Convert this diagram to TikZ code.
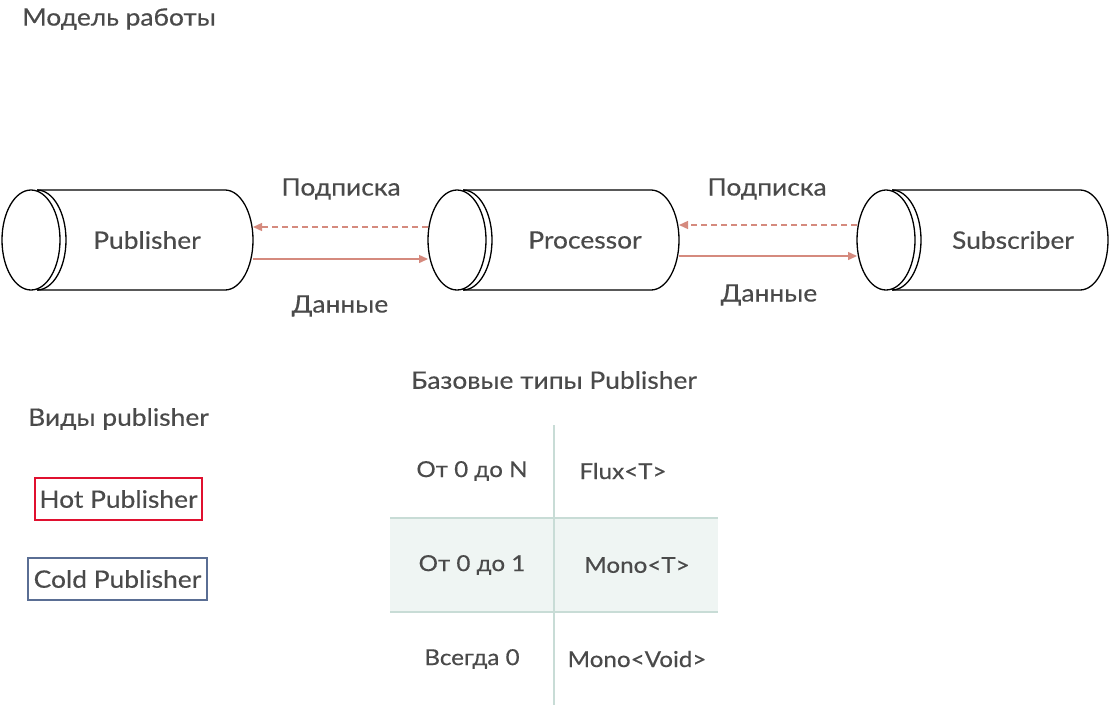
\documentclass[tikz,border=0pt]{standalone}
\usepackage{fontspec}
\setmainfont{Lato}[FakeStretch=1.1, FakeBold=0.4]
\usetikzlibrary{arrows.meta}
\definecolor{txt}{HTML}{4A4A4A}
\definecolor{salmon}{HTML}{D58A7E}
\definecolor{hotred}{HTML}{E0102F}
\definecolor{coldblue}{HTML}{5A6E94}
\definecolor{gridcol}{HTML}{C8DCD6}
\definecolor{shadecol}{HTML}{EFF5F3}
\tikzset{
  cylline/.style={draw=black, line width=1.3pt},
  lbl/.style={text=txt, font=\fontsize{24}{28}\selectfont, inner sep=0pt},
  tbl/.style={text=txt, font=\fontsize{22}{26}\selectfont, inner sep=0pt},
  flowsub/.style={draw=salmon, line width=1.4pt, dash pattern=on 6pt off 4pt, -{Triangle[length=9pt,width=8pt]}},
  flowdata/.style={draw=salmon, line width=1.4pt, -{Triangle[length=9pt,width=8pt]}},
  kindbox/.style={text=txt, font=\fontsize{24}{28}\selectfont, inner xsep=4pt, inner ysep=0pt, minimum height=42pt, line width=1.3pt},
  gridline/.style={draw=gridcol, line width=1.5pt}
}
\newcommand\drawcyl[4]{% name, cx, text x offset, text
  \draw[cylline] (#2,240) ellipse [x radius=29, y radius=50];
  \draw[cylline] (#2+6,190) arc [start angle=-90, end angle=90, x radius=29, y radius=50];
  \draw[cylline] (#2+6,190) -- (#2+194,190) arc [start angle=-90, end angle=90, x radius=28, y radius=50] -- (#2+6,290);
  \node[lbl] (#1) at (#2+#3,240) {#4};
  \coordinate (#1-L) at (#2-29,240);
  \coordinate (#1-R) at (#2+222,240);
}
\begin{document}
\begin{tikzpicture}[x=1pt,y=-1pt]
\useasboundingbox (0,0) rectangle (1110,705);
\node[lbl, anchor=west] (title) at (22,19) {Модель работы};

\drawcyl{pub}{31}{116}{Publisher}
\drawcyl{proc}{457}{128}{Processor}
\drawcyl{sub}{886}{127}{Subscriber}

\draw[flowsub] ([yshift=13pt]proc-L) -- ([yshift=13pt]pub-R);
\draw[flowdata] ([yshift=-19pt]pub-R) -- ([yshift=-19pt]proc-L);
\draw[flowsub] ([yshift=15pt]sub-L) -- ([yshift=15pt]proc-R);
\draw[flowdata] ([yshift=-16pt]proc-R) -- ([yshift=-16pt]sub-L);

\node[lbl] (sub1) at (341,189) {Подписка};
\node[lbl] (dat1) at (340,306) {Данные};
\node[lbl] (sub2) at (767,189) {Подписка};
\node[lbl] (dat2) at (769,295) {Данные};

\node[lbl] (basetitle) at (554,380) {Базовые типы Publisher};
\node[lbl, anchor=west] (kinds) at (28,419) {Виды publisher};

\node[kindbox, draw=hotred, minimum width=167pt] (hot) at (118.5,499) {Hot Publisher};
\node[kindbox, draw=coldblue, minimum width=179pt] (cold) at (117.5,579) {Cold Publisher};

% table
\fill[shadecol] (390,518) rectangle (718,612);
\coordinate (vtop) at (554,425);
\coordinate (vbot) at (554,705);
\coordinate (h1l) at (390,518);
\coordinate (h1r) at (718,518);
\coordinate (h2l) at (390,612);
\coordinate (h2r) at (718,612);
\draw[gridline] (vtop) -- (vbot);
\draw[gridline] (h1l) -- (h1r);
\draw[gridline] (h2l) -- (h2r);

\node[tbl] (c11) at (472,471) {От 0 до N};
\node[tbl] (c12) at (623,471) {Flux<T>};
\node[tbl] (c21) at (472,565) {От 0 до 1};
\node[tbl] (c22) at (637,565) {Mono<T>};
\node[tbl] (c31) at (472,659) {Всегда 0};
\node[tbl] (c32) at (637,659) {Mono<Void>};
\end{tikzpicture}
\end{document}
